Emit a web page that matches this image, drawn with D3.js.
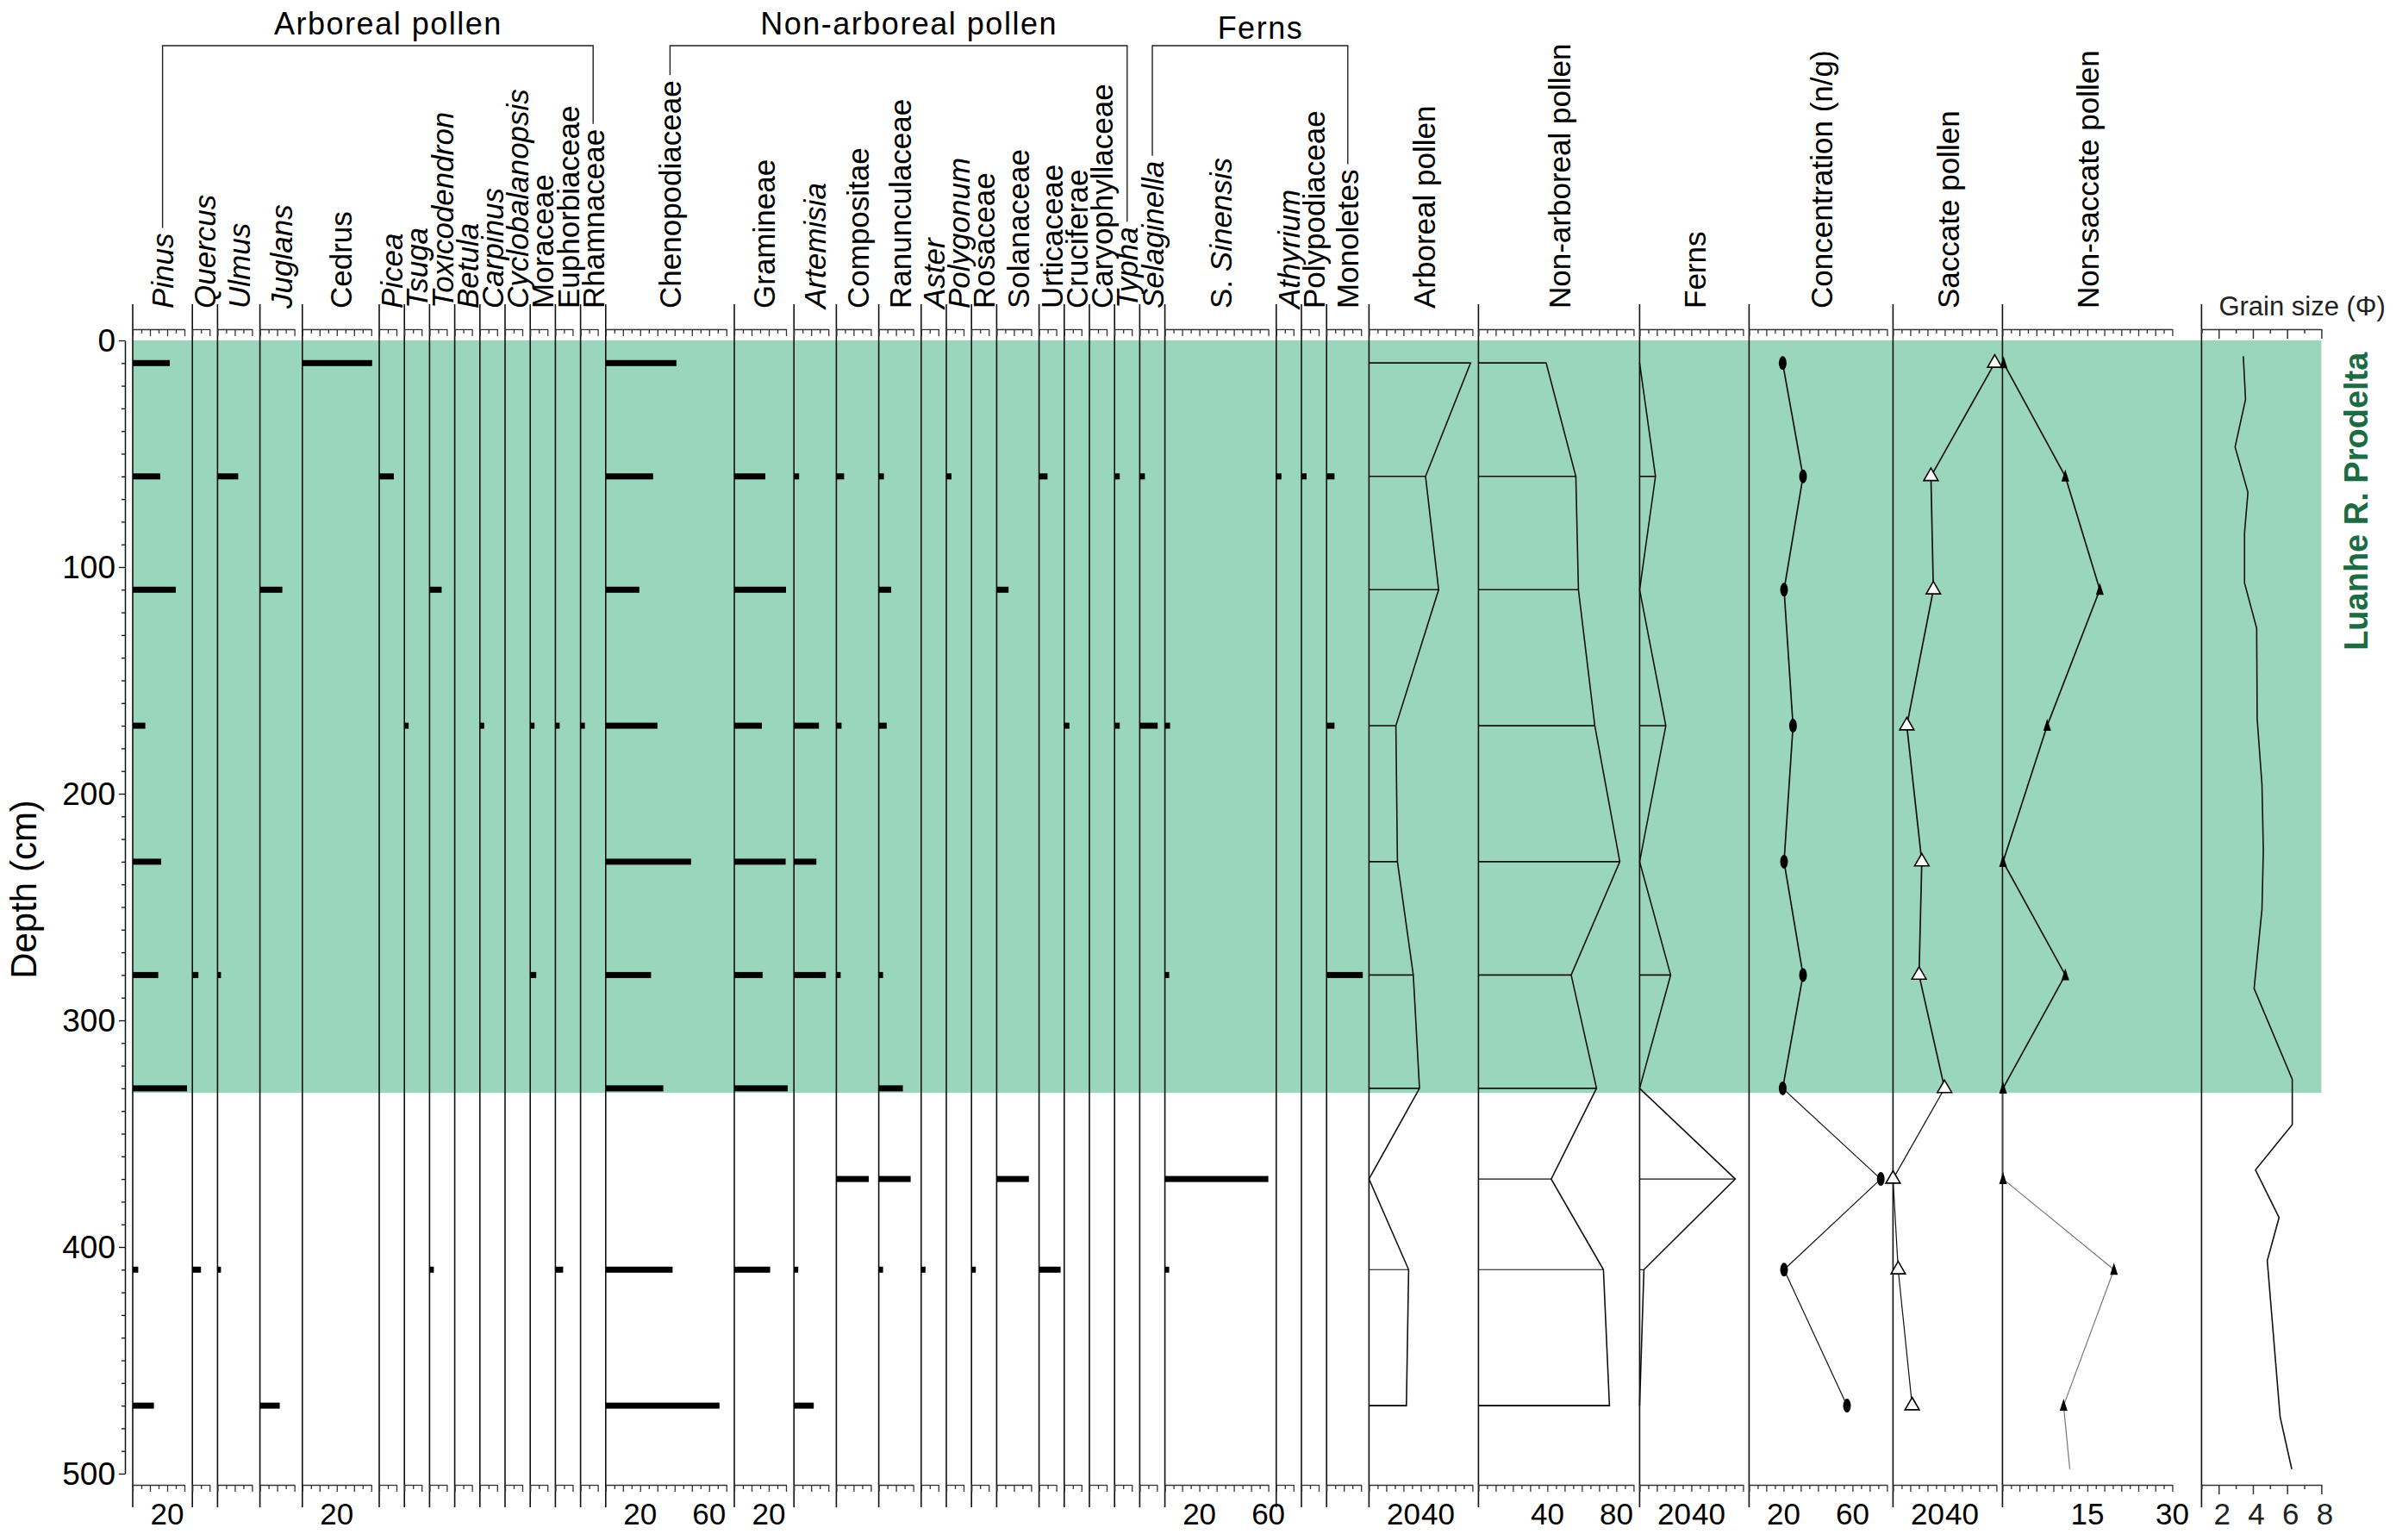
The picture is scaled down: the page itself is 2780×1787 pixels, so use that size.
<!DOCTYPE html>
<html>
<head>
<meta charset="utf-8">
<script src="https://cdn.jsdelivr.net/npm/d3@7"></script>
<style>
  html, body { margin: 0; padding: 0; background: #fff; }
  svg { display: block; font-family: "Liberation Sans", Arial, sans-serif; }
</style>
</head>
<body>
<div id="chart"></div>
<script>
// sample depths (cm)
const depths = [10, 60, 110, 170, 230, 280, 330, 370, 410, 470];

// arboreal pollen (%)
const arborealTaxa = ["Pinus", "Quercus", "Ulmus", "Juglans", "Cedrus", "Picea", "Tsuga", "Toxicodendron",
  "Betula", "Carpinus", "Cyclobalanopsis", "Moraceae", "Euphorbiaceae", "Rhamnaceae"];
const arborealMax = [30, 10, 20, 20, 40, 10, 10, 10, 10, 10, 10, 10, 10, 10];
const arborealPct = [
  [21.5, 16, 25, 7.3, 16.5, 14.8, 31.5, 0, 3.2, 12.3],
  [0, 0, 0, 0, 0, 3.5, 0, 0, 5, 0],
  [0, 12, 0, 0, 0, 2, 0, 0, 2, 0],
  [0, 0, 13, 0, 0, 0, 0, 0, 0, 11.5],
  [40.5, 0, 0, 0, 0, 0, 0, 0, 0, 0],
  [0, 8.5, 0, 0, 0, 0, 0, 0, 0, 0],
  [0, 0, 0, 2.5, 0, 0, 0, 0, 0, 0],
  [0, 0, 7, 0, 0, 0, 0, 0, 2.5, 0],
  [0, 0, 0, 0, 0, 0, 0, 0, 0, 0],
  [0, 0, 0, 2.5, 0, 0, 0, 0, 0, 0],
  [0, 0, 0, 0, 0, 0, 0, 0, 0, 0],
  [0, 0, 0, 2.5, 0, 3.5, 0, 0, 0, 0],
  [0, 0, 0, 2.5, 0, 0, 0, 0, 4.5, 0],
  [0, 0, 0, 2.5, 0, 0, 0, 0, 0, 0]
];

// non-arboreal pollen (%)
const nonArborealTaxa = ["Chenopodiaceae", "Gramineae", "Artemisia", "Compositae", "Ranunculaceae", "Aster",
  "Polygonum", "Rosaceae", "Solanaceae", "Urticaceae", "Cruciferae", "Caryophyllaceae", "Typha"];
const nonArborealMax = [70, 30, 20, 20, 20, 10, 10, 10, 20, 10, 10, 10, 10];
const nonArborealPct = [
  [41, 27.5, 19.5, 30, 49.5, 26.3, 33.4, 0, 38.8, 66],
  [0, 18, 30, 16, 29.8, 16.4, 31, 0, 20.8, 0],
  [0, 3, 0, 14.5, 13, 18.5, 0, 0, 2.5, 11.5],
  [0, 4.5, 0, 3, 0, 2.5, 0, 18.8, 0, 0],
  [0, 3, 7.2, 4.6, 0, 2.5, 14, 18.5, 2.5, 0],
  [0, 0, 0, 0, 0, 0, 0, 0, 2.5, 0],
  [0, 3, 0, 0, 0, 0, 0, 0, 0, 0],
  [0, 0, 0, 0, 0, 0, 0, 0, 2.5, 0],
  [0, 0, 6.9, 0, 0, 0, 0, 18.7, 0, 0],
  [0, 4.9, 0, 0, 0, 0, 0, 0, 12.5, 0],
  [0, 0, 0, 3, 0, 0, 0, 0, 0, 0],
  [0, 0, 0, 0, 0, 0, 0, 0, 0, 0],
  [0, 3, 0, 3, 0, 0, 0, 0, 0, 0]
];

// ferns (%)
const fernTaxa = ["Selaginella", "S. Sinensis", "Athyrium", "Polypodiaceae", "Monoletes"];
const fernMax = [10, 60, 10, 10, 20];
const fernPct = [
  [0, 3, 0, 10.4, 0, 0, 0, 0, 0, 0],
  [0, 0, 0, 3, 0, 2.5, 0, 60, 2.5, 0],
  [0, 3, 0, 0, 0, 0, 0, 0, 0, 0],
  [0, 3, 0, 0, 0, 0, 0, 0, 0, 0],
  [0, 4.6, 0, 4.6, 0, 21, 0, 0, 0, 0]
];

// summary curves
const apSum = [58.9, 32.8, 40.4, 15.6, 16.5, 25.7, 29.3, 0, 23, 21.7];
const napSum = [39.3, 56.5, 58, 67.5, 82, 53.8, 68.5, 42.2, 72.5, 76];
const fernSum = [0, 9.2, 0, 15.2, 0, 18, 0, 55.5, 2.5, 0];
const concentration = [19.5, 31.3, 20.3, 25.5, 20.3, 31.3, 19.5, 76.4, 20.3, 56.8];
const saccate = [59, 22, 23.4, 8, 16.7, 15.1, 29.9, 0, 3, 11.1];
const nonSaccate = [0.2, 11.1, 17.2, 7.9, 0.1, 11.1, 0.1, 0.1, 19.7, 10.8];
const nonSaccateEndDepth = 498;
const nonSaccateEnd = 11.9;

// grain size (phi)
const grainDepth = [7, 26, 47, 67, 85, 107, 127, 167, 196, 225, 251, 286, 326, 346, 366, 387, 406, 475, 498];
const grainPhi = [3.44, 3.57, 2.96, 3.71, 3.51, 3.51, 4.22, 4.25, 4.53, 4.61, 4.53, 4.07, 6.3, 6.3, 4.15, 5.53, 4.84, 5.59, 6.27];

const zoneDepth = [0, 332];
const zoneName = "Luanhe R. Prodelta";
const depthTicks = [0, 100, 200, 300, 400, 500];

const italicNames = ["Pinus", "Quercus", "Ulmus", "Juglans", "Picea", "Tsuga", "Toxicodendron", "Betula",
  "Carpinus", "Cyclobalanopsis", "Artemisia", "Aster", "Polygonum", "Typha", "Selaginella", "Athyrium"];
const bottomLabels = {
  "Pinus": [20], "Cedrus": [20], "Chenopodiaceae": [20, 60], "Gramineae": [20], "S. Sinensis": [20, 60],
  "Arboreal pollen": [20, 40], "Non-arboreal pollen": [40, 80], "Ferns": [20, 40],
  "Concentration (n/g)": [20, 60], "Saccate pollen": [20, 40], "Non-saccate pollen": [15, 30]
};

const W = 2780, H = 1787;
const K = 2;                 // px per percent
const topRow = 382, botRow = 1723;
const lineTop = 353, lineBot = 1749;
const labelBase = 358;
const ink = "#111";
const green = "#9ad6bb";

const svg = d3.select("#chart").append("svg")
  .attr("width", W).attr("height", H)
  .attr("viewBox", `0 0 ${W} ${H}`);

const y = d3.scaleLinear().domain([0, 500]).range([395, 1710]);

// build columns
const cols = [];
let cursor = 154;
function addCol(name, max, pad, kind, values) {
  const c = { name, max, kind, values, left: cursor };
  c.width = max * K + pad;
  c.x = d3.scaleLinear().domain([0, max]).range([cursor, cursor + max * K]);
  c.step = 5;
  cols.push(c);
  cursor += c.width;
  return c;
}
arborealTaxa.forEach((n, i) => addCol(n, arborealMax[i], 9.2, "bar", arborealPct[i]));
nonArborealTaxa.forEach((n, i) => addCol(n, nonArborealMax[i], 9.2, "bar", nonArborealPct[i]));
fernTaxa.forEach((n, i) => addCol(n, fernMax[i], 9.2, "bar", fernPct[i]));
addCol("Arboreal pollen", 60, 7, "area", apSum);
addCol("Non-arboreal pollen", 90, 7, "area", napSum);
addCol("Ferns", 60, 7, "area", fernSum);
addCol("Concentration (n/g)", 80, 7, "conc", concentration);
addCol("Saccate pollen", 60, 7, "sac", saccate);
const nsCol = { name: "Non-saccate pollen", max: 30, kind: "ns", values: nonSaccate, left: cursor, width: 231, step: 1.5 };
nsCol.x = d3.scaleLinear().domain([0, 30]).range([cursor, cursor + 197]);
cols.push(nsCol);
cursor += nsCol.width;
const grCol = { name: "Grain size", kind: "grain", left: cursor, step: 1 };
grCol.x = d3.scaleLinear().domain([1, 8]).range([cursor, cursor + 139]);
const rightEdge = cursor + 139;

// zone shading
svg.append("rect")
  .attr("x", cols[0].left).attr("y", y(zoneDepth[0]))
  .attr("width", rightEdge - cols[0].left)
  .attr("height", y(zoneDepth[1]) - y(zoneDepth[0]))
  .attr("fill", green);

svg.append("text")
  .attr("transform", `translate(2733,${(y(0) + y(142)) / 2}) rotate(-90)`)
  .attr("text-anchor", "middle").attr("dy", "0.36em")
  .attr("font-size", 38).attr("font-weight", "bold")
  .attr("fill", "#1b6b43")
  .text(zoneName);

// depth axis
const depthAxis = svg.append("g").attr("transform", "translate(145,0)")
  .call(d3.axisLeft(y).tickValues(d3.range(0, 501, 10)).tickSize(4).tickSizeOuter(0).tickFormat(""));
depthAxis.select(".domain").attr("stroke", ink).attr("stroke-width", 1.5);
depthAxis.selectAll(".tick line").attr("stroke", ink).attr("stroke-width", 1.3)
  .attr("x2", d => d % 100 === 0 ? -7 : -4);
svg.selectAll(".depthlab").data(depthTicks).join("text")
  .attr("x", 134).attr("y", d => y(d)).attr("dy", "0.36em")
  .attr("text-anchor", "end").attr("font-size", 37).text(d => d);
svg.append("text")
  .attr("transform", `translate(27,1032) rotate(-90)`)
  .attr("text-anchor", "middle").attr("dy", "0.36em")
  .attr("font-size", 42).text("Depth (cm)");

// column lines
const allLeft = cols.map(c => c.left).concat([grCol.left]);
svg.selectAll(".colline").data(allLeft).join("line")
  .attr("x1", d => d).attr("x2", d => d)
  .attr("y1", lineTop).attr("y2", lineBot)
  .attr("stroke", ink).attr("stroke-width", 1.6);

// tick rows (top and bottom)
function tickRow(c, yy) {
  const vals = d3.range(0, c.max + 0.001, c.step);
  const g = svg.append("g").attr("transform", `translate(0,${yy})`)
    .call(d3.axisBottom(c.x).tickValues(vals).tickSize(5).tickSizeOuter(0).tickFormat(""));
  g.select(".domain").attr("stroke", "#333").attr("stroke-width", 1.3);
  g.selectAll(".tick line").attr("stroke", "#333").attr("stroke-width", 1.3)
    .attr("y2", (d, i) => (i % 2 === 0 ? 8 : 5));
}
cols.forEach(c => { tickRow(c, topRow); tickRow(c, botRow); });
[topRow, botRow].forEach(yy => {
  const g = svg.append("g").attr("transform", `translate(0,${yy})`)
    .call(d3.axisBottom(grCol.x).tickValues(d3.range(1, 8.01, 1)).tickSize(5).tickSizeOuter(0).tickFormat(""));
  g.select(".domain").attr("stroke", "#333").attr("stroke-width", 1.3);
  g.selectAll(".tick line").attr("stroke", "#333").attr("stroke-width", 1.5)
    .attr("y2", d => (d % 2 === 0 ? 11 : 5));
});

// bottom tick labels
cols.forEach(c => {
  (bottomLabels[c.name] || []).forEach(v => {
    svg.append("text").attr("x", c.x(v)).attr("y", 1769)
      .attr("text-anchor", "middle").attr("font-size", 35).text(v);
  });
});
[2, 4, 6, 8].forEach(v => {
  svg.append("text").attr("x", grCol.x(v) + 4).attr("y", 1769)
    .attr("text-anchor", "middle").attr("font-size", 35).attr("fill", "#222").text(v);
});

// column header labels
const labelNodes = {};
cols.forEach(c => {
  const cx = c.kind === "ns" ? (c.x.range()[0] + c.x.range()[1]) / 2 : c.left + c.width / 2;
  const t = svg.append("text")
    .attr("transform", `translate(${cx},${labelBase}) rotate(-90)`)
    .attr("dy", "0.36em").attr("font-size", 35);
  if (c.name === "S. Sinensis") {
    t.append("tspan").text("S. ");
    t.append("tspan").attr("font-style", "italic").text("Sinensis");
  } else {
    t.text(c.name);
    if (italicNames.includes(c.name)) t.attr("font-style", "italic");
  }
  labelNodes[c.name] = { cx, len: t.node().getComputedTextLength() };
});
svg.append("text").attr("x", grCol.left + 20).attr("y", 366)
  .attr("font-size", 31).attr("fill", "#222").text("Grain size (\u03A6)");

// group brackets
function bracket(first, last, title, ty) {
  const a = labelNodes[first], b = labelNodes[last];
  const by = 53;
  svg.append("path")
    .attr("d", `M${a.cx},${labelBase - a.len - 6}V${by}H${b.cx}V${labelBase - b.len - 6}`)
    .attr("fill", "none").attr("stroke", "#222").attr("stroke-width", 1.4);
  svg.append("text").attr("x", (a.cx + b.cx) / 2 + 12).attr("y", ty)
    .attr("text-anchor", "middle").attr("font-size", 36).attr("letter-spacing", 1.5)
    .text(title);
}
bracket("Pinus", "Rhamnaceae", "Arboreal pollen", 40);
bracket("Chenopodiaceae", "Typha", "Non-arboreal pollen", 40);
bracket("Selaginella", "Monoletes", "Ferns", 45);

// taxon bars
cols.filter(c => c.kind === "bar").forEach(c => {
  const pts = depths.map((d, i) => ({ d, v: c.values[i] })).filter(p => p.v > 0);
  svg.selectAll(null).data(pts).join("rect")
    .attr("x", c.left).attr("y", p => y(p.d) - 3.5)
    .attr("width", p => c.x(p.v) - c.left).attr("height", 7)
    .attr("fill", "#000");
});

// summary silhouettes
cols.filter(c => c.kind === "area").forEach(c => {
  const pts = depths.map((d, i) => [c.x(c.values[i]), y(d)]);
  const outline = [[c.left, pts[0][1]], ...pts, [c.left, pts[pts.length - 1][1]]];
  svg.append("path").attr("d", d3.line()(outline))
    .attr("fill", "none").attr("stroke", ink).attr("stroke-width", 1.6)
    .attr("stroke-linejoin", "miter");
  depths.forEach((d, i) => {
    if (c.values[i] > 0) {
      svg.append("line").attr("x1", c.left).attr("x2", c.x(c.values[i]))
        .attr("y1", y(d)).attr("y2", y(d))
        .attr("stroke", ink).attr("stroke-width", d < zoneDepth[1] ? 1.6 : 1.1);
    }
  });
});

// concentration, saccate, non-saccate curves
function curve(c, extra, greyLower) {
  const pts = depths.map((d, i) => ({ d, v: c.values[i] }));
  if (extra) pts.push(extra);
  for (let i = 0; i < pts.length - 1; i++) {
    const lower = pts[i].d >= zoneDepth[1] - 5;
    svg.append("line")
      .attr("x1", c.x(pts[i].v)).attr("y1", y(pts[i].d))
      .attr("x2", c.x(pts[i + 1].v)).attr("y2", y(pts[i + 1].d))
      .attr("stroke", lower && greyLower ? "#777" : ink)
      .attr("stroke-width", lower ? 1.2 : 1.7);
  }
}
const concCol = cols.find(c => c.kind === "conc");
const sacCol = cols.find(c => c.kind === "sac");
curve(concCol, null, false);
curve(sacCol, null, false);
curve(nsCol, { d: nonSaccateEndDepth, v: nonSaccateEnd }, true);

svg.selectAll(null).data(depths.map((d, i) => ({ d, v: concentration[i] }))).join("ellipse")
  .attr("cx", p => concCol.x(p.v)).attr("cy", p => y(p.d))
  .attr("rx", 4.5).attr("ry", 8).attr("fill", "#000");

const tri = d3.symbol().type(d3.symbolTriangle);
svg.selectAll(null).data(depths.map((d, i) => ({ d, v: saccate[i] }))).join("path")
  .attr("d", tri.size(120)())
  .attr("transform", p => `translate(${sacCol.x(p.v)},${y(p.d)})`)
  .attr("fill", "#fff").attr("stroke", "#000").attr("stroke-width", 1.6);

svg.selectAll(null).data(depths.map((d, i) => ({ d, v: nonSaccate[i] }))).join("path")
  .attr("d", "M0,-8L4.5,6L-4.5,6Z")
  .attr("transform", p => `translate(${nsCol.x(p.v)},${y(p.d)})`)
  .attr("fill", "#000");

// grain size curve
svg.append("path")
  .attr("d", d3.line().x((d, i) => grCol.x(grainPhi[i])).y(d => y(d))(grainDepth))
  .attr("fill", "none").attr("stroke", ink).attr("stroke-width", 1.6);
</script>
</body>
</html>
